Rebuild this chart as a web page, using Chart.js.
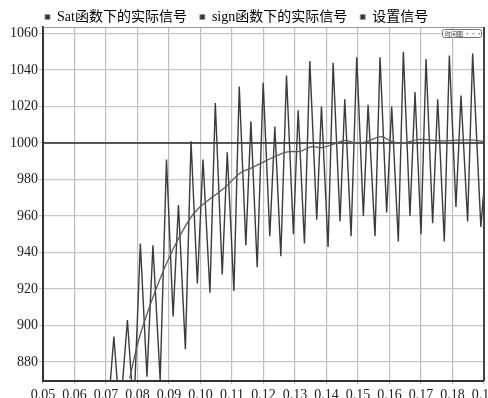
<!DOCTYPE html>
<html>
<head>
<meta charset="utf-8">
<script src="https://cdn.jsdelivr.net/npm/chart.js@4"></script>
<style>
  html, body { margin: 0; padding: 0; background: #fff; overflow: hidden; }
  #wrap { width: 488px; height: 398px; position: relative; }
</style>
</head>
<body>
<div id="wrap"><canvas id="simChart"></canvas></div>
<script>
// values
const seriesNames = ['Sat函数下的实际信号', 'sign函数下的实际信号', '设置信号'];

const satT = [0.0775, 0.0807, 0.0861, 0.0912, 0.0966, 0.0998, 0.1039, 0.1080, 0.1125, 0.1157,
  0.1204, 0.1262, 0.1284, 0.1316, 0.1354, 0.1385, 0.1424, 0.1462, 0.1493, 0.1528,
  0.1573, 0.1605, 0.1636, 0.1697, 0.1760, 0.1814, 0.1865, 0.1900];
const satVals = [871, 894, 921, 941.5, 958.5, 965, 970.5, 976, 983.5, 986,
  990, 994.5, 995.3, 995.5, 998, 997.5, 999.5, 1001.5, 999.8, 1000.8,
  1003.5, 1001, 999.8, 1002, 1001.2, 1001.6, 1001.6, 1000.8];

const signT = [0.0705, 0.0725, 0.0744, 0.0768, 0.0788, 0.0809, 0.0830, 0.0849, 0.0872, 0.0892,
  0.0913, 0.0930, 0.0952, 0.0970, 0.0990, 0.1008, 0.1030, 0.1047, 0.1069, 0.1085,
  0.1106, 0.1123, 0.1144, 0.1160, 0.1180, 0.1199, 0.1220, 0.1236, 0.1255, 0.1273,
  0.1295, 0.1310, 0.1330, 0.1347, 0.1369, 0.1384, 0.1405, 0.1421, 0.1443, 0.1458,
  0.1478, 0.1496, 0.1517, 0.1532, 0.1554, 0.1570, 0.1591, 0.1607, 0.1628, 0.1644,
  0.1665, 0.1681, 0.1700, 0.1716, 0.1737, 0.1753, 0.1774, 0.1790, 0.1811, 0.1827,
  0.1848, 0.1864, 0.1890, 0.1900];
const signVals = [850, 894, 850, 903, 852, 945, 872, 944, 870, 991,
  905, 966, 887, 1001, 923, 991, 918, 1022, 928, 995,
  919, 1031, 944, 1012, 932, 1033, 949, 1009, 938, 1037,
  950, 1018, 945, 1045, 958, 1020, 943, 1044, 957, 1024,
  949, 1047, 960, 1021, 949, 1047, 962, 1020, 946, 1050,
  960, 1028, 950, 1046, 956, 1024, 946, 1048, 965, 1026,
  957, 1049, 954, 975];

const setT = [0.05, 0.19];
const setVals = [1000, 1000];

const xTicks = [0.05, 0.06, 0.07, 0.08, 0.09, 0.10, 0.11, 0.12, 0.13, 0.14, 0.15, 0.16, 0.17, 0.18, 0.19];
const yTicks = [880, 900, 920, 940, 960, 980, 1000, 1020, 1040, 1060];

const toPoints = (xs, ys) => xs.map((x, i) => ({ x: x, y: ys[i] }));

const serif = '"Liberation Serif", "Times New Roman", "Noto Sans CJK SC", serif';

// pins the plot box and draws the frame pieces Chart.js has no option for
const frame = {
  id: 'frame',
  afterInit(chart) {
    const lg = chart.legend;
    const fit = lg.fit.bind(lg);
    lg.fit = function () { fit(); this.height = 27; };
  },
  afterLayout(chart) {
    chart.legend.left = 32;
    chart.legend.top = -3;
  },
  afterDraw(chart) {
    const { ctx, chartArea: a } = chart;
    ctx.save();
    ctx.strokeStyle = '#9a9a9a';
    ctx.lineWidth = 1;
    ctx.beginPath();
    ctx.moveTo(a.left, a.top + 0.5);
    ctx.lineTo(a.right, a.top + 0.5);
    ctx.stroke();
    ctx.strokeStyle = '#444';
    ctx.lineWidth = 2;
    ctx.beginPath();
    ctx.moveTo(a.right, a.top);
    ctx.lineTo(a.right, a.bottom);
    ctx.stroke();
    // small "时间图" button in the corner
    ctx.fillStyle = '#fff';
    ctx.strokeStyle = '#777';
    ctx.lineWidth = 1;
    ctx.beginPath();
    ctx.roundRect(a.right - 41.5, a.top + 2.5, 39, 8, 2);
    ctx.fill();
    ctx.stroke();
    ctx.fillStyle = '#333';
    ctx.font = '6px "Noto Sans CJK SC", sans-serif';
    ctx.textBaseline = 'middle';
    ctx.fillText('时间图 •••', a.right - 39, a.top + 6.8);
    ctx.restore();
  }
};

new Chart(document.getElementById('simChart'), {
  type: 'line',
  data: {
    datasets: [{
      label: seriesNames[0],
      data: toPoints(satT, satVals),
      borderColor: '#5a5a5a',
      backgroundColor: '#333',
      borderWidth: 1.3,
      pointRadius: 0,
      tension: 0.4,
    }, {
      label: seriesNames[1],
      data: toPoints(signT, signVals),
      borderColor: '#3c3c3c',
      backgroundColor: '#333',
      borderWidth: 1.4,
      pointRadius: 0,
      tension: 0,
    }, {
      label: seriesNames[2],
      data: toPoints(setT, setVals),
      borderColor: '#2a2a2a',
      backgroundColor: '#333',
      borderWidth: 1.6,
      pointRadius: 0,
    }],
  },
  options: {
    responsive: true,
    maintainAspectRatio: false,
    animation: false,
    layout: { padding: { right: 4 } },
    plugins: {
      tooltip: { enabled: false },
      legend: {
        position: 'top',
        align: 'start',
        labels: {
          boxWidth: 5,
          boxHeight: 5,
          padding: 13,
          color: '#222',
          font: { family: serif, size: 14 },
          generateLabels: chart => chart.data.datasets.map((ds, i) => ({
            text: ds.label,
            fillStyle: '#333',
            strokeStyle: '#999',
            lineWidth: 1,
            datasetIndex: i,
          })),
        },
      },
    },
    scales: {
      x: {
        type: 'linear',
        min: 0.05,
        max: 0.19,
        afterBuildTicks: s => { s.ticks = xTicks.map(v => ({ value: v })); },
        afterFit: s => { s.height = 17; s.paddingLeft = 0; s.paddingRight = 0; },
        ticks: {
          autoSkip: false,
          maxRotation: 0,
          padding: 3,
          color: '#222',
          font: { family: serif, size: 14 },
          callback: v => v.toFixed(2),
        },
        grid: { color: '#bdbdbd', lineWidth: 1.2, tickLength: 3 },
        border: { color: '#333', width: 2 },
      },
      y: {
        min: 869.6,
        max: 1063.6,
        afterBuildTicks: s => { s.ticks = yTicks.map(v => ({ value: v })); },
        afterFit: s => { s.width = 43; s.paddingTop = 0; s.paddingBottom = 0; },
        ticks: {
          padding: 1,
          color: '#222',
          font: { family: serif, size: 14 },
          callback: v => String(v),
        },
        grid: { color: '#c6c6c6', lineWidth: 1.2, tickLength: 4 },
        border: { color: '#333', width: 2 },
      },
    },
  },
  plugins: [frame],
});
</script>
</body>
</html>
